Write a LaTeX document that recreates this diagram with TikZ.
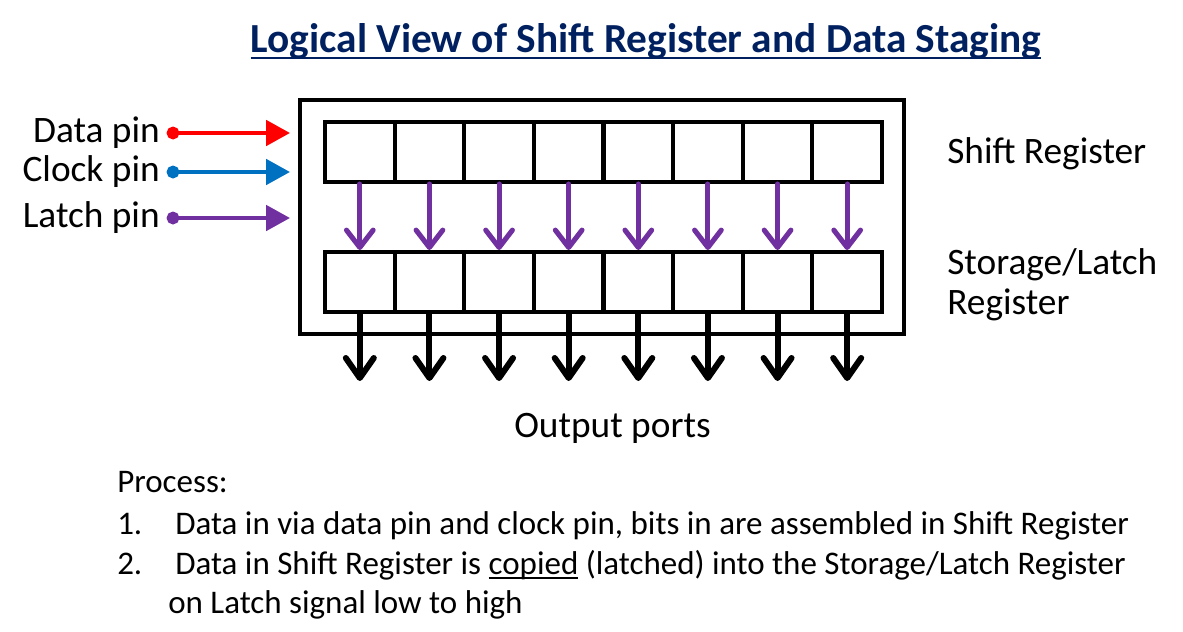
\documentclass[tikz,border=0pt]{standalone}
\usepackage{fontspec}
\setmainfont{Carlito}
\usetikzlibrary{arrows.meta}
\definecolor{titleblue}{HTML}{002060}
\definecolor{pinblue}{HTML}{0070C0}
\definecolor{latchpurple}{HTML}{7030A0}
\newcommand\ulword[1]{\setbox0\hbox{#1}\rlap{\rule[-3.5pt]{\wd0}{1.2pt}}\box0\relax}
\tikzset{
  cell/.style={draw,line width=3pt,minimum width=52.2pt,minimum height=45pt,inner sep=0pt},
  pinlabel/.style={font=\fontsize{28pt}{32pt}\selectfont,inner sep=0pt},
  pinarrow/.style={line width=3pt,{Circle[length=9.5pt]}-{Triangle[length=18pt,width=19pt]}},
  latcharrow/.style={latchpurple,line width=3.8pt,line cap=round,-{Straight Barb[length=13pt,width=20pt,line cap=round,round]}},
  outarrow/.style={line width=4.5pt,line cap=round,-{Straight Barb[length=15pt,width=21pt,line cap=round,round]}},
  proc/.style={font=\fontsize{24.75pt}{30pt}\selectfont,inner sep=0pt,anchor=base west}
}
\begin{document}
\begin{tikzpicture}[x=0.75pt,y=-0.75pt]
\useasboundingbox (0,0) rectangle (1183,632);
\node[font=\fontsize{31pt}{36pt}\selectfont\bfseries,text=titleblue,inner sep=0pt,anchor=base] (title) at (646,52) {Logical View of Shift Register and Data Staging};
\draw[titleblue,line width=2.2pt] ([yshift=-4.5pt]title.base west) -- ([yshift=-4.5pt]title.base east);
% outer chip box
\node[draw,line width=3.2pt,minimum width=453pt,minimum height=175.5pt] (box) at (602,217) {};
% the two registers
\foreach \i in {1,...,8}{
  \node[cell] (sr\i) at ({325+69.625*(\i-0.5)},152) {};
  \node[cell] (lr\i) at ({325+69.625*(\i-0.5)},282) {};
  \coordinate (out\i) at ({325+69.625*(\i-0.5)},381);
}
\foreach \i in {1,...,8}{
  \draw[latcharrow] (sr\i.south) -- (lr\i.north);
  \draw[outarrow] (lr\i.south) -- (out\i);
}
% pins
\node[pinlabel,anchor=east] (dlab) at (160,133) {Data pin};
\node[pinlabel,anchor=east] (clab) at (160,172) {Clock pin};
\node[pinlabel,anchor=east] (llab) at (160,218) {Latch pin};
\coordinate (din) at (290,133);
\coordinate (cin) at (290,172);
\coordinate (lin) at (290,218);
\draw[pinarrow,red] ([xshift=5pt]dlab.east) -- (din);
\draw[pinarrow,pinblue] ([xshift=5pt]clab.east) -- (cin);
\draw[pinarrow,latchpurple] ([xshift=5pt]llab.east) -- (lin);
% labels
\node[pinlabel,anchor=base west] (srlab) at (947,163) {Shift Register};
\node[pinlabel,anchor=base west,align=left] (lrlab) at (947,314) {Storage/Latch\\[-2pt]Register};
\node[pinlabel,anchor=base west] (outlab) at (514,437) {Output ports};
% process notes
\node[proc] (p0) at (117,492) {Process:};
\node[proc] (p1n) at (117,534) {1.};
\node[proc] (p1) at (175,534) {Data in via data pin and clock pin, bits in are assembled in Shift Register};
\node[proc] (p2n) at (117,574) {2.};
\node[proc] (p2) at (175,574) {Data in Shift Register is \ulword{copied} (latched) into the Storage/Latch Register};
\node[proc] (p3) at (168,613) {on Latch signal low to high};
\end{tikzpicture}
\end{document}
